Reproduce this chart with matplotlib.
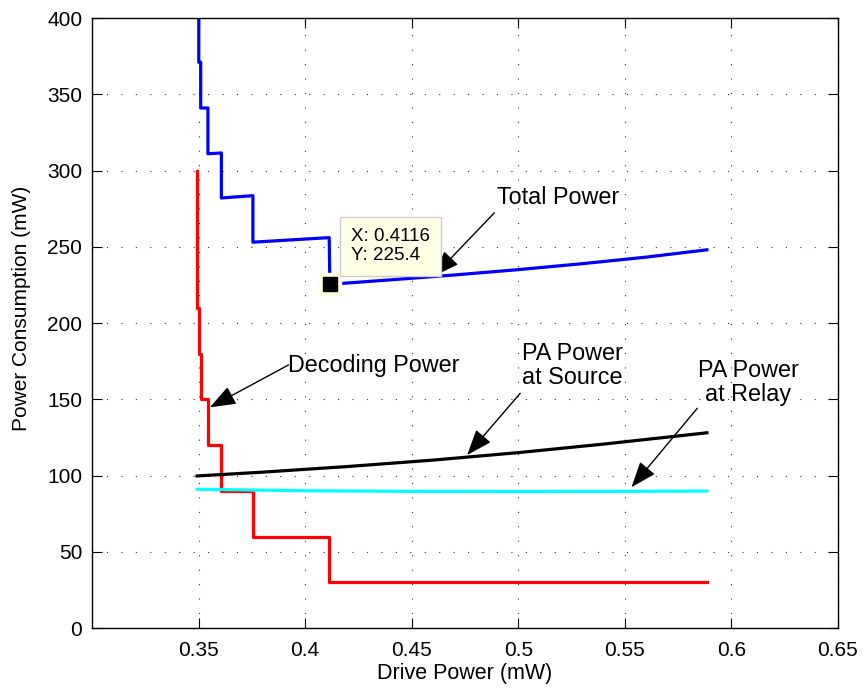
import matplotlib
matplotlib.use("Agg")
import matplotlib.pyplot as plt

plt.rcParams["font.family"] = ["Liberation Sans", "DejaVu Sans"]

# Decoding power (step curve)
decode_x = [0.3493, 0.3493, 0.3501, 0.3501, 0.3510, 0.3510, 0.3544, 0.3544,
            0.3607, 0.3607, 0.3755, 0.3755, 0.4113, 0.4113, 0.5885]
decode_y = [300, 210, 210, 180, 180, 150, 150, 120,
            120, 90, 90, 60, 60, 30, 30]

# PA power at source
src_x = [0.3493, 0.38, 0.42, 0.46, 0.50, 0.54, 0.5885]
src_y = [99.7, 102.2, 105.9, 110.1, 115.0, 120.6, 128.0]

# PA power at relay
relay_x = [0.3493, 0.40, 0.45, 0.50, 0.55, 0.5885]
relay_y = [91.0, 90.0, 89.6, 89.5, 89.6, 89.8]

# Total power
total_x = [0.3493, 0.3493, 0.3501, 0.3501, 0.3510, 0.3510, 0.3544, 0.3544,
           0.3607, 0.3607, 0.3755, 0.3755, 0.4113, 0.4116, 0.44, 0.47,
           0.50, 0.53, 0.56, 0.5885]
total_y = [491, 401, 401, 371, 371, 341, 341, 311,
           311.5, 282, 283.5, 253, 256, 225.4, 228.3, 231.5,
           235.0, 238.9, 243.2, 248.0]

tip_x, tip_y = 0.4116, 225.4

fig = plt.figure(figsize=(8.63, 6.96), dpi=100)
ax = fig.add_axes([0.1066, 0.0977, 0.8644, 0.8764])

ax.plot(total_x, total_y, color="#0000ff", lw=2.3)
ax.plot(decode_x, decode_y, color="#ff0000", lw=2.3)
ax.plot(src_x, src_y, color="black", lw=2.3)
ax.plot(relay_x, relay_y, color="#00ffff", lw=2.3)

ax.set_xlim(0.3, 0.65)
ax.set_ylim(0, 400)
ax.set_xticks([0.35, 0.4, 0.45, 0.5, 0.55, 0.6, 0.65])
ax.set_xticklabels(["0.35", "0.4", "0.45", "0.5", "0.55", "0.6", "0.65"])
ax.set_yticks(range(0, 401, 50))
ax.tick_params(direction="in", top=True, right=True, labelsize=15, length=7)
ax.tick_params(axis="x", pad=9)
ax.tick_params(axis="y", pad=7)
ax.grid(True, color="#333333", linestyle=(0, (1, 12)), linewidth=0.8)
for s in ax.spines.values():
    s.set_linewidth(1.0)

ax.set_xlabel("Drive Power (mW)", fontsize=15.5)
ax.set_ylabel("Power Consumption (mW)", fontsize=15)
ax.xaxis.set_label_coords(0.5, -0.058)
ax.yaxis.set_label_coords(-0.082, 0.524)

# data tip
ax.plot([tip_x], [tip_y], marker="s", ms=16, color="#ffffe0", mec="#ffffe0", zorder=5)
ax.plot([tip_x], [tip_y], marker="s", ms=9.5, color="black", zorder=6)
ax.annotate("X: 0.4116\nY: 225.4", xy=(tip_x, tip_y), xytext=(21, 20),
            textcoords="offset pixels", ha="left", va="bottom", fontsize=13.5,
            linespacing=1.15,
            bbox=dict(boxstyle="square,pad=0.6", fc="#ffffe6", ec="#cccccc", lw=1),
            zorder=7)

arrow = dict(arrowstyle="-|>,head_length=1.6,head_width=0.6", color="black",
             lw=1.0, shrinkA=0, shrinkB=0)

ax.annotate("", xy=(0.4604, 230.8), xytext=(0.4888, 272.3), arrowprops=arrow)
ax.text(0.5185, 282.6, "Total Power", fontsize=16.8, ha="center", va="center")

ax.annotate("", xy=(0.3553, 144.7), xytext=(0.3922, 172.5), arrowprops=arrow)
ax.text(0.4322, 172.0, "Decoding Power", fontsize=16.8, ha="center", va="center")

ax.annotate("", xy=(0.4760, 113.4), xytext=(0.5009, 153.9), arrowprops=arrow)
ax.text(0.5252, 172.0, "PA Power\nat Source", fontsize=16.8, ha="center",
        va="center", multialignment="center", linespacing=1.05)

ax.annotate("", xy=(0.5531, 92.3), xytext=(0.5840, 144.1), arrowprops=arrow)
ax.text(0.6079, 160.7, "PA Power\nat Relay", fontsize=16.8, ha="center",
        va="center", multialignment="center", linespacing=1.05)

fig.savefig("out.png", dpi=100)
